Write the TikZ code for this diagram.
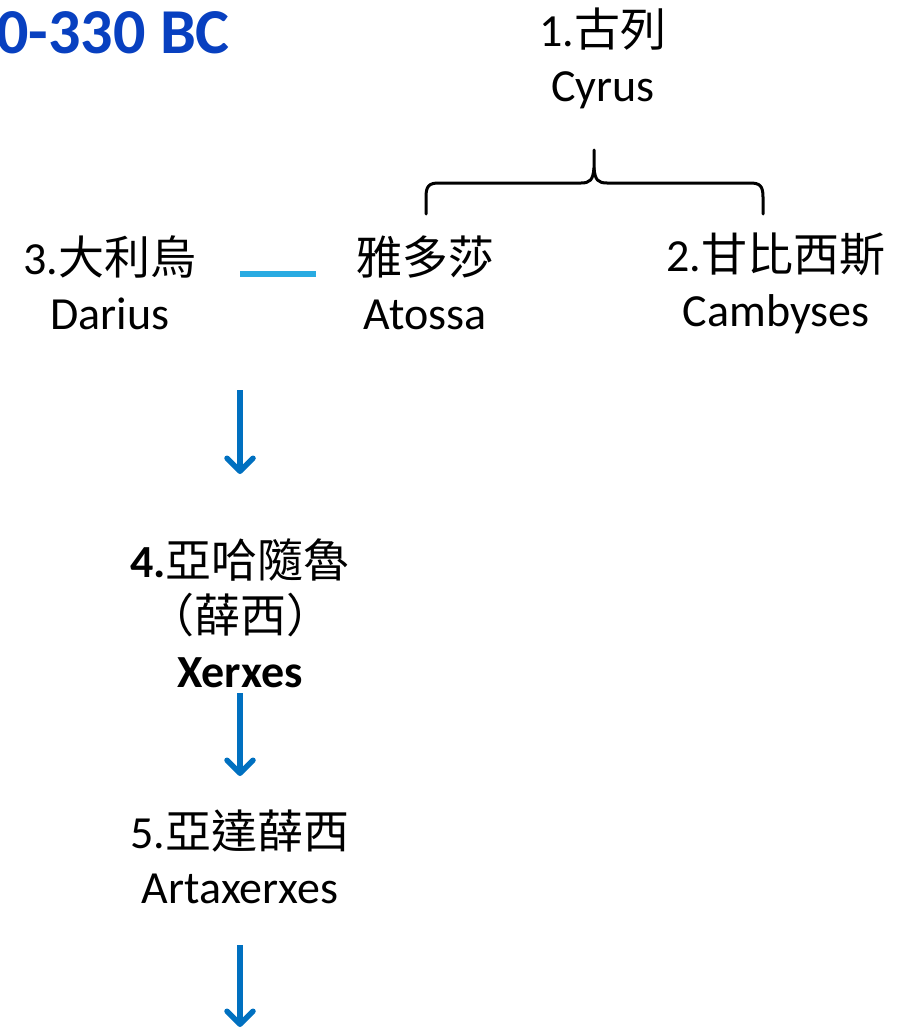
\documentclass[tikz,border=0pt]{standalone}
\usepackage{fontspec}
\setmainfont{Carlito}
\newfontfamily\cjk{Noto Sans CJK TC}
\usetikzlibrary{arrows.meta}
\definecolor{titleblue}{RGB}{8,64,192}
\definecolor{arrowblue}{RGB}{0,112,192}
\definecolor{lineblue}{RGB}{41,171,226}
\tikzset{
  person/.style={align=center, inner sep=0pt, font=\fontsize{46}{55}\selectfont},
  descent/.style={arrowblue, line width=5.5pt, -{Straight Barb[length=13pt,width=26pt,round,line width=5.5pt]}},
  marriage/.style={lineblue, line width=6.5pt},
  bracepath/.style={black, line width=3pt, line cap=round, line join=round}
}
\begin{document}
\begin{tikzpicture}[x=1pt,y=-1pt]
\path[use as bounding box] (0,0) rectangle (902,1033);
\node[anchor=east, inner sep=0pt, text=titleblue, font=\fontsize{64}{70}\selectfont\bfseries] (title) at (230,33) {0-330 BC};
\node[person] (cyrus) at (603,58) {1.{\cjk 古列}\\Cyrus};
\node[person] (darius) at (110,283) {3.{\cjk 大利烏}\\Darius};
\node[person] (atossa) at (425,283) {{\cjk 雅多莎}\\Atossa};
\node[person] (cambyses) at (776,283) {2.{\cjk 甘比西斯}\\Cambyses};
\node[person] (xerxes) at (240,613) {\textbf{4.}{\cjk 亞哈隨魯}\\{\cjk （薛西）}\\\textbf{Xerxes}};
\node[person] (artax) at (240,857) {5.{\cjk 亞達薛西}\\Artaxerxes};
% brace
\coordinate (bl) at (426,214);
\coordinate (br) at (763,214);
\coordinate (bt) at (594,150);
\draw[bracepath] (bl) -- (426,197) .. controls (426,186) and (429,183) .. (439,183) -- (581,183) .. controls (590,183) and (593,180) .. (594,168) -- (bt);
\draw[bracepath] (594,168) .. controls (595,180) and (598,183) .. (607,183) -- (750,183) .. controls (760,183) and (763,186) .. (763,197) -- (br);
% marriage line
\coordinate (m1) at (240,274);
\coordinate (m2) at (316,274);
\draw[marriage] (m1) -- (m2);
% descent arrows
\coordinate (a1s) at (240,390);
\coordinate (a1e) at (240,474);
\coordinate (a2s) at (240,693);
\coordinate (a2e) at (240,776);
\coordinate (a3s) at (240,945);
\coordinate (a3e) at (240,1027);
\draw[descent] (a1s) -- (a1e);
\draw[descent] (a2s) -- (a2e);
\draw[descent] (a3s) -- (a3e);
\end{tikzpicture}
\end{document}
